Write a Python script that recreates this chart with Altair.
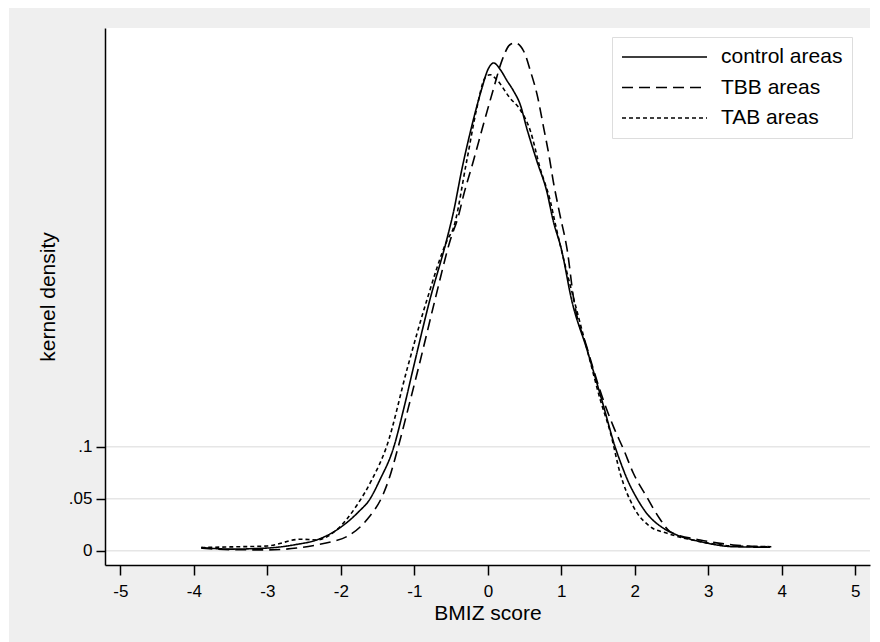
import altair as alt
import pandas as pd

FONT = "Liberation Sans"

categories = ["control areas", "TBB areas", "TAB areas"]

control_x = [-3.90, -3.50, -3.00, -2.60, -2.33, -2.10, -1.92, -1.75, -1.62, -1.47, -1.28, -1.15, -1.01, -0.79,
             -0.56, -0.47, -0.35, -0.22, -0.08, 0.00, 0.08, 0.17, 0.26, 0.35, 0.44, 0.53, 0.67, 0.80, 0.89, 1.00,
             1.14, 1.35, 1.57, 1.73, 1.80, 1.90, 2.03, 2.16, 2.39, 2.57, 2.89, 3.34, 3.84]
control_y = [0.0030, 0.0015, 0.0025, 0.0060, 0.0103, 0.0180, 0.0270, 0.0380, 0.0480, 0.0680, 0.0997, 0.1350,
             0.1770, 0.2410, 0.2990, 0.3250, 0.3680, 0.4080, 0.4450, 0.4625, 0.4690, 0.4625, 0.4520, 0.4420,
             0.4290, 0.4060, 0.3740, 0.3460, 0.3170, 0.2900, 0.2410, 0.1930, 0.1400, 0.1000, 0.0860, 0.0680,
             0.0500, 0.0360, 0.0215, 0.0151, 0.0087, 0.0038, 0.0033]

tbb_x = [-3.90, -3.50, -3.00, -2.60, -2.33, -2.10, -1.92, -1.65, -1.42, -1.35, -1.22, -1.08, -0.94, -0.72, -0.51,
         -0.40, -0.33, -0.20, -0.06, 0.08, 0.19, 0.30, 0.37, 0.49, 0.58, 0.67, 0.76, 0.83, 0.89, 0.98, 1.08, 1.17,
         1.35, 1.57, 1.71, 1.85, 1.98, 2.16, 2.35, 2.48, 2.89, 3.34, 3.80]
tbb_y = [0.0023, 0.0010, 0.0007, 0.0025, 0.0055, 0.0090, 0.0135, 0.0295, 0.0550, 0.0680, 0.0997, 0.1380, 0.1770,
         0.2410, 0.2990, 0.3220, 0.3420, 0.3740, 0.4100, 0.4450, 0.4710, 0.4865, 0.4882, 0.4800, 0.4610, 0.4385,
         0.4064, 0.3808, 0.3552, 0.3231, 0.2890, 0.2410, 0.1950, 0.1450, 0.1190, 0.0968, 0.0744, 0.0519, 0.0295,
         0.0183, 0.0103, 0.0055, 0.0038]

tab_x = [-3.90, -3.50, -3.00, -2.55, -2.33, -2.06, -1.78, -1.58, -1.38, -1.09, -0.83, -0.55, -0.47, -0.29, -0.15,
         -0.04, 0.03, 0.12, 0.30, 0.44, 0.58, 0.71, 0.85, 0.92, 1.06, 1.21, 1.37, 1.53, 1.67, 1.80, 1.98, 2.21,
         2.44, 2.89, 3.34, 3.87]
tab_y = [0.0030, 0.0036, 0.0045, 0.0110, 0.0103, 0.0199, 0.0439, 0.0680, 0.0997, 0.1770, 0.2410, 0.2990, 0.3100,
         0.3740, 0.4257, 0.4545, 0.4577, 0.4529, 0.4353, 0.4240, 0.4033, 0.3680, 0.3360, 0.3135, 0.2720, 0.2310,
         0.1880, 0.1450, 0.1129, 0.0744, 0.0423, 0.0231, 0.0167, 0.0087, 0.0045, 0.0038]

x_ticks = [-5, -4, -3, -2, -1, 0, 1, 2, 3, 4, 5]
y_ticks = [0, 0.05, 0.1]

rows = []
for name, xs, ys in [(categories[0], control_x, control_y),
                     (categories[1], tbb_x, tbb_y),
                     (categories[2], tab_x, tab_y)]:
    for i, (a, b) in enumerate(zip(xs, ys)):
        rows.append({"group": name, "bmiz": a, "density": b, "order": i})
df = pd.DataFrame(rows)

W, H = 765, 537
xscale = alt.Scale(domain=[-5.21, 5.20], nice=False, zero=False)
yscale = alt.Scale(domain=[-0.0138, 0.5026], nice=False, zero=False)

xaxis = alt.Axis(values=x_ticks, labelExpr="toString(datum.value)", grid=False, zindex=1,
                 domainColor="black", domainWidth=1.5, tickColor="black", tickWidth=1.5, tickSize=10,
                 labelFont=FONT, labelFontSize=17, labelColor="black", labelPadding=8,
                 titleFont=FONT, titleFontSize=21, titleFontWeight="normal", titleColor="black",
                 titlePadding=3)
yaxis = alt.Axis(values=y_ticks,
                 labelExpr="datum.value == 0 ? '0' : slice(toString(datum.value), 1)",
                 grid=False, zindex=1,
                 domainColor="black", domainWidth=1.5, tickColor="black", tickWidth=1.5, tickSize=9,
                 labelFont=FONT, labelFontSize=17, labelColor="black", labelPadding=4,
                 titleFont=FONT, titleFontSize=21, titleFontWeight="normal", titleColor="black",
                 titlePadding=10)

one = pd.DataFrame({"k": [0]})
bg = alt.Chart(one).mark_rect(color="#EFEFEF").encode(
    x=alt.value(-96), x2=alt.value(W), y=alt.value(-20), y2=alt.value(614))
plotbg = alt.Chart(one).mark_rect(color="white").encode(
    x=alt.value(0), x2=alt.value(W), y=alt.value(0), y2=alt.value(H))

grid = alt.Chart(pd.DataFrame({"density": y_ticks})).mark_rule(color="#E6E6E6", strokeWidth=1.5).encode(
    y=alt.Y("density:Q", scale=yscale, axis=yaxis, title="kernel density"))

lines = alt.Chart(df).mark_line(color="black", strokeWidth=1.6, interpolate="monotone").encode(
    x=alt.X("bmiz:Q", scale=xscale, axis=xaxis, title="BMIZ score"),
    y=alt.Y("density:Q", scale=yscale, axis=yaxis, title="kernel density"),
    strokeDash=alt.StrokeDash(
        "group:N",
        scale=alt.Scale(domain=categories, range=[[1, 0], [11, 6], [4, 3]]),
        legend=alt.Legend(title=None, orient="none", legendX=507, legendY=9,
                          symbolType="stroke", symbolSize=7225, symbolStrokeWidth=1.6,
                          symbolStrokeColor="black", clipHeight=22, rowPadding=8.5,
                          labelFont=FONT, labelFontSize=21, labelColor="black", labelOffset=13,
                          fillColor="white", strokeColor="#DDDDDD", padding=9, symbolOffset=0),
    ),
    order="order:Q",
)

chart = alt.layer(bg, plotbg, grid, lines).properties(
    width=W, height=H,
    autosize=alt.AutoSizeParams(type="none"),
    padding={"left": 105, "top": 28, "right": 10, "bottom": 77},
    background="white",
).configure_view(stroke=None)

chart.save("out.html", embed_options={"renderer": "svg", "actions": False})
